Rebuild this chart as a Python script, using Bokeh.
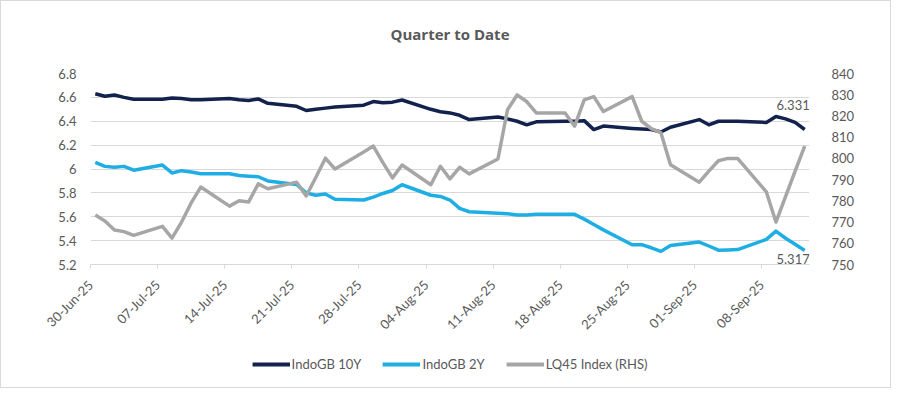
import pandas as pd
from bokeh.plotting import figure
from bokeh.layouts import column
from bokeh.models import (Range1d, LinearAxis, FixedTicker, DatetimeTickFormatter,
                          Legend, LegendItem, ColumnDataSource)
from bokeh.core.properties import value
from bokeh.embed import file_html
from bokeh.resources import INLINE

DATES = [
    "2025-06-30", "2025-07-01", "2025-07-02", "2025-07-03", "2025-07-04",
    "2025-07-07", "2025-07-08", "2025-07-09", "2025-07-10", "2025-07-11",
    "2025-07-14", "2025-07-15", "2025-07-16", "2025-07-17", "2025-07-18",
    "2025-07-21", "2025-07-22", "2025-07-23", "2025-07-24", "2025-07-25",
    "2025-07-28", "2025-07-29", "2025-07-30", "2025-07-31", "2025-08-01",
    "2025-08-04", "2025-08-05", "2025-08-06", "2025-08-07", "2025-08-08",
    "2025-08-11", "2025-08-12", "2025-08-13", "2025-08-14", "2025-08-15",
    "2025-08-18", "2025-08-19", "2025-08-20", "2025-08-21", "2025-08-22",
    "2025-08-25", "2025-08-26", "2025-08-27", "2025-08-28", "2025-08-29",
    "2025-09-01", "2025-09-02", "2025-09-03", "2025-09-04", "2025-09-05",
    "2025-09-08", "2025-09-09", "2025-09-10", "2025-09-11", "2025-09-12",
]

INDOGB_10Y = [
    6.63, 6.61, 6.62, 6.60, 6.585,
    6.585, 6.595, 6.59, 6.58, 6.58,
    6.59, 6.58, 6.574, 6.587, 6.55,
    6.525, 6.49, 6.50, 6.51, 6.52,
    6.535, 6.565, 6.555, 6.56, 6.578,
    6.50, 6.48, 6.47, 6.45, 6.414,
    6.435, 6.42, 6.40, 6.37, 6.395,
    6.40, 6.40, 6.405, 6.33, 6.36,
    6.34, 6.335, 6.33, 6.31, 6.35,
    6.414, 6.37, 6.40, 6.40, 6.40,
    6.39, 6.44, 6.42, 6.39, 6.331,
]

INDOGB_2Y = [
    6.056, 6.022, 6.014, 6.022, 5.99,
    6.033, 5.967, 5.986, 5.975, 5.96,
    5.96, 5.945, 5.94, 5.935, 5.90,
    5.87, 5.80, 5.78, 5.79, 5.746,
    5.74, 5.765, 5.795, 5.82, 5.868,
    5.78, 5.77, 5.74, 5.67, 5.642,
    5.63, 5.625, 5.615, 5.614, 5.62,
    5.62, 5.62, 5.58, 5.535, 5.49,
    5.366, 5.366, 5.34, 5.31, 5.36,
    5.388, 5.355, 5.32, 5.322, 5.325,
    5.41, 5.48, 5.42, 5.37, 5.317,
]

LQ45 = [
    773.3, 770.5, 766.3, 765.5, 763.7,
    768.0, 762.4, 770.0, 779.0, 786.5,
    777.5, 780.0, 779.5, 788.0, 785.7,
    788.8, 782.3, 791.0, 800.1, 795.0,
    803.0, 805.8, 798.0, 790.8, 796.9,
    787.6, 796.3, 790.3, 795.8, 792.7,
    799.7, 822.9, 829.9, 826.8, 821.4,
    821.4, 815.2, 827.6, 829.1, 822.1,
    829.1, 817.5, 814.0, 812.1, 797.0,
    788.8, 794.0, 798.9, 800.0, 800.0,
    784.2, 770.0, 782.0, 794.0, 805.8,
]

TICK_DATES = ["2025-06-30", "2025-07-07", "2025-07-14", "2025-07-21", "2025-07-28",
              "2025-08-04", "2025-08-11", "2025-08-18", "2025-08-25", "2025-09-01",
              "2025-09-08"]
LEFT_TICKS = [5.2, 5.4, 5.6, 5.8, 6.0, 6.2, 6.4, 6.6, 6.8]
RIGHT_TICKS = [750, 760, 770, 780, 790, 800, 810, 820, 830, 840]

TITLE = "Quarter to Date"
SERIES_NAMES = ["IndoGB 10Y", "IndoGB 2Y", "LQ45 Index (RHS)"]
COLORS = ["#13214d", "#1eaee4", "#a6a6a6"]

FONT = "Lato"
TXT = "#595959"
GRID = "#d9d9d9"
W = 889


def strip(height):
    f = figure(width=W, height=height, output_backend="svg", toolbar_location=None,
               x_range=Range1d(0, 1), y_range=Range1d(0, 1), min_border=0)
    f.axis.visible = False
    f.grid.visible = False
    f.outline_line_color = None
    f.background_fill_color = "white"
    f.border_fill_color = "white"
    return f


# title strip
pt = strip(64)
pt.text(x=[0.5], y=[0.5], text=[TITLE], text_align="center", text_baseline="middle",
        text_font=value("Open Sans"), text_font_size="15px", text_font_style="bold",
        text_color=TXT)

dates = pd.to_datetime(DATES) + pd.Timedelta(hours=12)
src = ColumnDataSource(dict(x=dates, y10=INDOGB_10Y, y2=INDOGB_2Y, lq=LQ45))

x_start = pd.Timestamp(DATES[0])
x_end = pd.Timestamp(DATES[-1]) + pd.Timedelta(days=1)

p = figure(width=W, height=275, x_axis_type="datetime",
           x_range=Range1d(x_start, x_end), y_range=Range1d(LEFT_TICKS[0], LEFT_TICKS[-1]),
           output_backend="svg", toolbar_location=None,
           min_border_left=89, min_border_right=81, min_border_top=8, min_border_bottom=73)
p.outline_line_color = None
p.background_fill_color = "white"
p.border_fill_color = "white"

p.extra_y_ranges = {"rhs": Range1d(RIGHT_TICKS[0], RIGHT_TICKS[-1])}

# left axis
ya = p.yaxis[0]
ya.ticker = FixedTicker(ticks=LEFT_TICKS)
ya.major_label_overrides = {6: "6", 6.0: "6"}
ya.axis_line_color = None
ya.major_tick_line_color = None
ya.minor_tick_line_color = None
ya.major_label_text_font = FONT
ya.major_label_text_font_size = "13px"
ya.major_label_text_color = TXT
ya.major_label_standoff = 8

# right axis
ra = LinearAxis(y_range_name="rhs", ticker=FixedTicker(ticks=RIGHT_TICKS))
ra.axis_line_color = None
ra.major_tick_line_color = None
ra.minor_tick_line_color = None
ra.major_label_text_font = FONT
ra.major_label_text_font_size = "13px"
ra.major_label_text_color = TXT
ra.major_label_standoff = 16
p.add_layout(ra, "right")

# x axis
xa = p.xaxis[0]
tick_ms = [pd.Timestamp(d).value // 10**6 for d in TICK_DATES]
xa.ticker = FixedTicker(ticks=tick_ms)
xa.formatter = DatetimeTickFormatter(days="%d-%b-%y", months="%d-%b-%y", hours="%d-%b-%y")
xa.major_label_orientation = 0.785398
xa.axis_line_color = GRID
xa.major_tick_line_color = GRID
xa.major_tick_in = 0
xa.major_tick_out = 4
xa.minor_tick_line_color = None
xa.major_label_text_font = FONT
xa.major_label_text_font_size = "13px"
xa.major_label_text_color = TXT
xa.major_label_standoff = 14

p.xgrid.grid_line_color = None
p.ygrid.grid_line_color = GRID
p.ygrid.ticker = FixedTicker(ticks=LEFT_TICKS)

p.line("x", "y10", source=src, color=COLORS[0], line_width=3.5, line_join="round")
p.line("x", "y2", source=src, color=COLORS[1], line_width=3.5, line_join="round")
p.line("x", "lq", source=src, color=COLORS[2], line_width=3.5, line_join="round",
       y_range_name="rhs")

# end labels
last_x = [dates[-1]]
p.text(x=last_x, y=[INDOGB_10Y[-1]], text=[f"{INDOGB_10Y[-1]:.3f}"], text_align="right",
       text_baseline="bottom", x_offset=5, y_offset=-19, text_font=value(FONT),
       text_font_size="13px", text_color=TXT)
p.text(x=last_x, y=[INDOGB_2Y[-1]], text=[f"{INDOGB_2Y[-1]:.3f}"], text_align="right",
       text_baseline="top", x_offset=5, y_offset=3, text_font=value(FONT),
       text_font_size="13px", text_color=TXT)

# legend strip
p2 = strip(47)
items = []
for name, col in zip(SERIES_NAMES, COLORS):
    r = p2.line(x=[float("nan")], y=[float("nan")], color=col, line_width=4)
    items.append(LegendItem(label=name, renderers=[r]))
legend = Legend(items=items, orientation="horizontal", location="center")
legend.glyph_width = 38
legend.glyph_height = 16
legend.label_standoff = 2
legend.spacing = 21
legend.padding = 0
legend.margin = 0
legend.border_line_color = None
legend.background_fill_alpha = 0
legend.label_text_font = FONT
legend.label_text_font_size = "13px"
legend.label_text_color = TXT
p2.add_layout(legend)

layout = column(pt, p, p2, spacing=0)
layout.styles = {"border": "1px solid #d9d9d9"}

open("out.html", "w").write(file_html(layout, INLINE))
